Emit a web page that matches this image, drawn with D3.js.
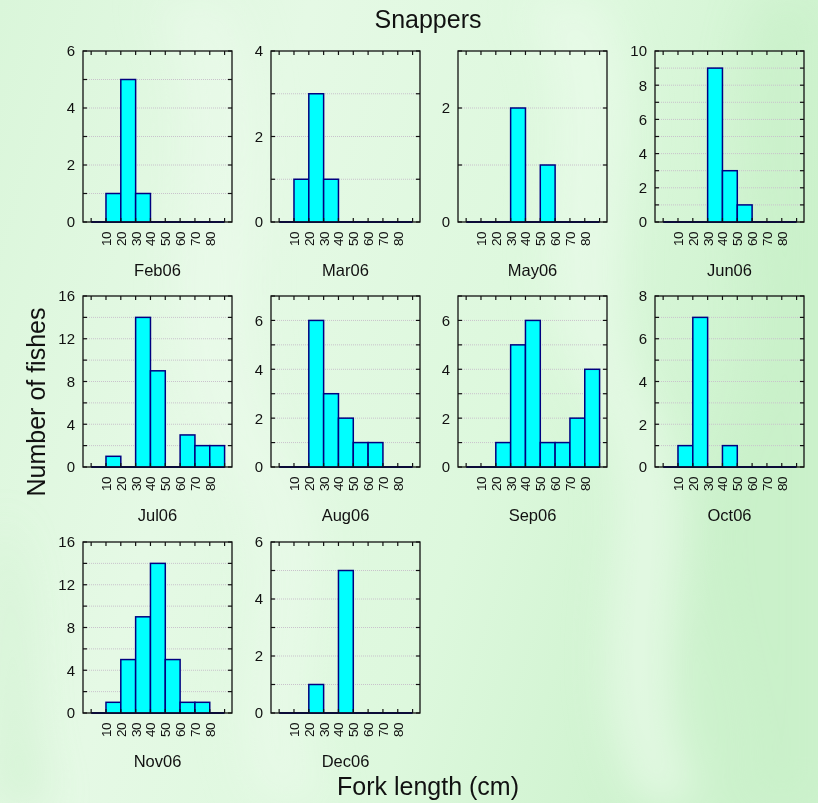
<!DOCTYPE html>
<html>
<head>
<meta charset="utf-8">
<script src="https://cdn.jsdelivr.net/npm/d3@7"></script>
<style>
  html, body { margin: 0; padding: 0; background: #dcf7dc; }
  svg { display: block; }
  text { font-family: "Liberation Sans", Arial, sans-serif; fill: #111; }
</style>
</head>
<body>
<svg id="chart" width="818" height="803"></svg>
<script>
// Fork-length classes (lower edge of each 10 cm bin) and the labelled class edges
const binStarts = [0, 10, 20, 30, 40, 50, 60, 70, 80];
const binWidth = 10;
const xTickLabels = [10, 20, 30, 40, 50, 60, 70, 80];

// Monthly sampling labels
const months = ["Feb06", "Mar06", "May06", "Jun06", "Jul06", "Aug06", "Sep06", "Oct06", "Nov06", "Dec06"];

// Number of snappers per length class, one array per month
const feb06 = [0, 1, 5, 1, 0, 0, 0, 0, 0];
const mar06 = [0, 1, 3, 1, 0, 0, 0, 0, 0];
const may06 = [0, 0, 0, 2, 0, 1, 0, 0, 0];
const jun06 = [0, 0, 0, 9, 3, 1, 0, 0, 0];
const jul06 = [0, 1, 0, 14, 9, 0, 3, 2, 2];
const aug06 = [0, 0, 6, 3, 2, 1, 1, 0, 0];
const sep06 = [0, 0, 1, 5, 6, 1, 1, 2, 4];
const oct06 = [0, 1, 7, 0, 1, 0, 0, 0, 0];
const nov06 = [0, 1, 5, 9, 14, 5, 1, 1, 0];
const dec06 = [0, 0, 1, 0, 5, 0, 0, 0, 0];

// Per-panel y-axis upper limits, labelled tick step and minor (grid) step
const yMaxes     = [6, 4, 3, 10, 16, 7, 7, 8, 16, 6];
const yLabelStep = [2, 2, 2, 2, 4, 2, 2, 2, 4, 2];
const yMinorStep = [1, 1, 1, 1, 2, 1, 1, 1, 2, 1];

const counts = [feb06, mar06, may06, jun06, jul06, aug06, sep06, oct06, nov06, dec06];

const W = 818, H = 803;
const svg = d3.select("#chart");

// ---- background: pale green with soft wavy bands ----
const defs = svg.append("defs");
const bg = defs.append("linearGradient").attr("id", "bgGrad")
  .attr("x1", 0).attr("y1", 0).attr("x2", 1).attr("y2", 0.3);
bg.append("stop").attr("offset", 0).attr("stop-color", "#daf6da");
bg.append("stop").attr("offset", 0.35).attr("stop-color", "#e5f9e5");
bg.append("stop").attr("offset", 0.7).attr("stop-color", "#ddf8dd");
bg.append("stop").attr("offset", 1).attr("stop-color", "#cdf2cd");
defs.append("filter").attr("id", "soft")
  .attr("x", "-50%").attr("y", "-50%").attr("width", "200%").attr("height", "200%")
  .append("feGaussianBlur").attr("stdDeviation", 20);

svg.append("rect").attr("width", W).attr("height", H).attr("fill", "url(#bgGrad)");
const waves = svg.append("g").attr("filter", "url(#soft)");
waves.append("path")
  .attr("d", "M520,0 C600,120 500,260 590,400 C660,520 560,650 640,803 L700,803 C630,650 720,520 650,400 C580,270 670,130 600,0 Z")
  .attr("fill", "#eafbea").attr("opacity", 0.7);
waves.append("path")
  .attr("d", "M760,0 C700,150 800,300 730,450 C680,580 770,700 740,803 L818,803 L818,0 Z")
  .attr("fill", "#c8f0c8").attr("opacity", 0.6);
waves.append("path")
  .attr("d", "M0,520 C40,600 10,700 50,803 L0,803 Z")
  .attr("fill", "#cbf0cb").attr("opacity", 0.6);
waves.append("path")
  .attr("d", "M150,0 C230,140 120,300 220,460 C300,590 200,700 260,803 L330,803 C270,690 370,580 290,450 C200,300 300,150 230,0 Z")
  .attr("fill", "#eefcee").attr("opacity", 0.5);

// ---- panel layout ----
const colLeft = [83, 271, 458, 655];
const rowTop = [51, 296, 542];
const plotW = 149, plotH = 171;
const xDomain = [-5.5, 95];

months.forEach((m, i) => {
  const row = Math.floor(i / 4), col = i % 4;
  const left = colLeft[col], top = rowTop[row];
  const g = svg.append("g").attr("transform", `translate(${left},${top})`);

  const x = d3.scaleLinear().domain(xDomain).range([0, plotW]);
  const y = d3.scaleLinear().domain([0, yMaxes[i]]).range([plotH, 0]);

  const minorVals = d3.range(0, yMaxes[i] + 1e-9, yMinorStep[i]);
  const labelVals = d3.range(0, yMaxes[i] + 1e-9, yLabelStep[i]);

  // dotted horizontal grid lines
  g.append("g").selectAll("line")
    .data(minorVals.filter(v => v > 0 && v < yMaxes[i]))
    .join("line")
    .attr("x1", 0).attr("x2", plotW)
    .attr("y1", d => y(d)).attr("y2", d => y(d))
    .attr("stroke", "#c9c2cc").attr("stroke-width", 1)
    .attr("stroke-dasharray", "1,1");

  // zero-count baseline across all classes
  g.append("line")
    .attr("x1", x(binStarts[0])).attr("x2", x(binStarts[binStarts.length - 1] + binWidth))
    .attr("y1", y(0)).attr("y2", y(0))
    .attr("stroke", "#000080").attr("stroke-width", 2);

  // histogram bars
  const data = binStarts.map((b, k) => ({ b, n: counts[i][k] })).filter(d => d.n > 0);
  g.append("g").selectAll("rect")
    .data(data)
    .join("rect")
    .attr("x", d => x(d.b))
    .attr("width", d => x(d.b + binWidth) - x(d.b))
    .attr("y", d => y(d.n))
    .attr("height", d => y(0) - y(d.n))
    .attr("fill", "#00ffff")
    .attr("stroke", "#000080")
    .attr("stroke-width", 1.5);

  // frame
  g.append("rect").attr("width", plotW).attr("height", plotH)
    .attr("fill", "none").attr("stroke", "#111").attr("stroke-width", 1.3);

  // inward ticks: x ticks on top and bottom, y ticks on left and right
  const tickLen = 4;
  const xTickVals = binStarts.concat([binStarts[binStarts.length - 1] + binWidth]);
  const ticks = g.append("g").attr("stroke", "#111").attr("stroke-width", 1.2);
  xTickVals.forEach(v => {
    ticks.append("line").attr("x1", x(v)).attr("x2", x(v)).attr("y1", 0).attr("y2", tickLen);
    ticks.append("line").attr("x1", x(v)).attr("x2", x(v)).attr("y1", plotH).attr("y2", plotH - tickLen);
  });
  minorVals.forEach(v => {
    ticks.append("line").attr("x1", 0).attr("x2", tickLen).attr("y1", y(v)).attr("y2", y(v));
    ticks.append("line").attr("x1", plotW).attr("x2", plotW - tickLen).attr("y1", y(v)).attr("y2", y(v));
  });

  // y tick labels
  g.append("g").selectAll("text")
    .data(labelVals)
    .join("text")
    .attr("x", -8).attr("y", d => y(d)).attr("dy", "0.36em")
    .attr("text-anchor", "end")
    .attr("font-size", 15)
    .text(d => d);

  // rotated x tick labels
  g.append("g").selectAll("text")
    .data(xTickLabels)
    .join("text")
    .attr("transform", d => `translate(${x(d)},${plotH + 10}) rotate(-90)`)
    .attr("dy", "0.36em")
    .attr("text-anchor", "end")
    .attr("font-size", 13.5)
    .attr("letter-spacing", -0.5)
    .text(d => d);

  // month label
  g.append("text")
    .attr("x", plotW / 2).attr("y", plotH + 54)
    .attr("text-anchor", "middle")
    .attr("font-size", 16.5)
    .text(m);
});

// titles
svg.append("text").attr("x", 428).attr("y", 28)
  .attr("text-anchor", "middle").attr("font-size", 25).text("Snappers");
svg.append("text").attr("x", 428).attr("y", 795)
  .attr("text-anchor", "middle").attr("font-size", 25).text("Fork length (cm)");
svg.append("text")
  .attr("transform", "translate(45,402) rotate(-90)")
  .attr("text-anchor", "middle").attr("font-size", 25).text("Number of fishes");
</script>
</body>
</html>
